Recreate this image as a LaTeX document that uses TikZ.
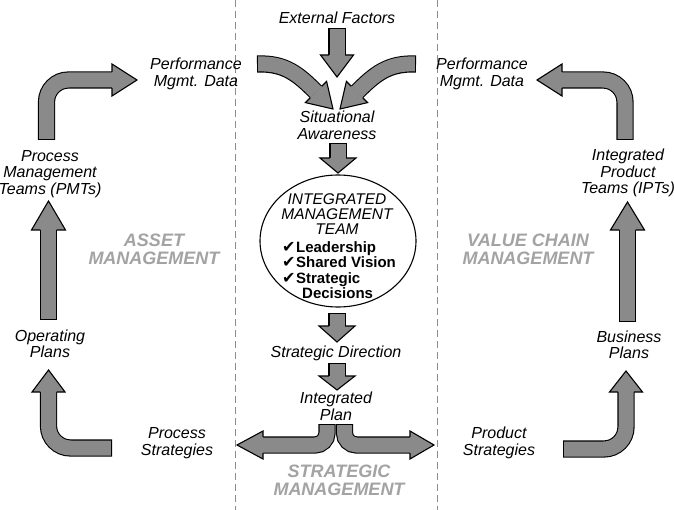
\documentclass[tikz,border=0pt]{standalone}
\usepackage{fontspec}
\setmainfont{Liberation Sans}
\newfontfamily\symfont{DejaVu Sans}
\usetikzlibrary{calc,shapes.geometric}

\definecolor{arrowfill}{HTML}{8A8A8A}
\definecolor{areagray}{HTML}{A3A3A3}
\definecolor{guide}{HTML}{8C8C8C}

\tikzset{
  shaftout/.style={line width=17.2pt, draw=black, line cap=butt},
  shaftin/.style={line width=15pt, draw=arrowfill, line cap=butt, shorten <=1.1pt},
  headline/.style={line width=1.1pt, line join=miter},
  lbl/.style={font=\itshape\fontsize{16}{16.5}\selectfont, align=center, inner sep=0pt},
  area/.style={font=\bfseries\itshape\fontsize{18}{18}\selectfont, text=areagray, align=center, inner sep=0pt},
  guideline/.style={draw=guide, line width=0.8pt, dash pattern=on 7pt off 4pt},
}

% check mark used in the team list
\newcommand\tick{{\symfont\fontsize{16}{16}\selectfont ✔}\hspace{0.5pt}}

% block arrow: options, shaft path, head base, tip, head half-width
\newcommand\blockarrow[5]{%
  \draw[shaftout,#1] #2;
  \draw[shaftin,#1] #2;
  \fill[arrowfill] ($(#3)!#5pt!90:(#4)$) -- (#4) -- ($(#3)!#5pt!-90:(#4)$) -- cycle;
  \draw[headline] ($(#3)!8.05pt!90:(#4)$) -- ($(#3)!#5pt!90:(#4)$) -- (#4)
     -- ($(#3)!#5pt!-90:(#4)$) -- ($(#3)!8.05pt!-90:(#4)$);
}

\begin{document}
\begin{tikzpicture}[x=1pt,y=-1pt]
\fill[white] (0,0) rectangle (674,510);
\useasboundingbox (0,0) rectangle (674,510);

% column separators
\coordinate (sepLtop) at (235,0);   \coordinate (sepLbot) at (235,510);
\coordinate (sepRtop) at (437,0);   \coordinate (sepRbot) at (437,510);
\draw[guideline] (sepLtop) -- (sepLbot);
\draw[guideline] (sepRtop) -- (sepRbot);

% ---------- labels ----------
\node[lbl] (ext)   at (337,18)    {External Factors};
\node[lbl] (sit)   at (337,125.5) {Situational\\Awareness};
\node[lbl] (sdir)  at (336,353)   {Strategic Direction};
\node[lbl] (iplan) at (336,406.5) {Integrated\\Plan};

\node[lbl] (perfL) at (196,74)  {Performance\\Mgmt. Data};
\node[lbl] (pmt)   at (50,174)  {Process\\Management\\Teams (PMTs)};
\node[lbl] (opl)   at (50,344)  {Operating\\Plans};
\node[lbl] (procS) at (177,443) {Process\\Strategies};

\node[lbl] (perfR) at (482,74)  {Performance\\Mgmt. Data};
\node[lbl] (ipt)   at (628,173) {Integrated\\Product\\Teams (IPTs)};
\node[lbl] (bus)   at (629,345) {Business\\Plans};
\node[lbl] (prodS) at (499,443) {Product\\Strategies};

\node[area] (asset) at (154,249) {ASSET\\MANAGEMENT};
\node[area] (vcm)   at (528,249) {VALUE CHAIN\\MANAGEMENT};
\node[area] (smg)   at (339,480) {STRATEGIC\\MANAGEMENT};

% ---------- management team ----------
\node[draw, line width=1.1pt, ellipse, minimum width=156pt, minimum height=132pt, inner sep=0pt] (imt) at (338,241) {};
\node[lbl, font=\itshape\fontsize{15.5}{15}\selectfont] (imtHead) at (337,214)
  {INTEGRATED\\MANAGEMENT\\TEAM};
\node[anchor=west, align=left, inner sep=0pt, font=\bfseries\fontsize{15}{15.4}\selectfont] (imtList) at (282,270)
  {\tick Leadership\\\tick Shared Vision\\\tick Strategic\\\hspace*{20pt}Decisions};

% ---------- arrow geometry ----------
\coordinate (tlS) at (46.5,140); \coordinate (tlC) at (46.5,80); \coordinate (tlB) at (112,80); \coordinate (tlT) at (137,80);
\coordinate (luS) at (48.5,320); \coordinate (luB) at (48.5,230); \coordinate (luT) at (48.5,201);
\coordinate (blS) at (112,448); \coordinate (blC) at (48.5,448); \coordinate (blB) at (48.5,392); \coordinate (blT) at (48.5,370);

\coordinate (trS) at (625,140); \coordinate (trC) at (625,80); \coordinate (trB) at (562,80); \coordinate (trT) at (537,80);
\coordinate (ruS) at (627.5,322); \coordinate (ruB) at (627.5,230); \coordinate (ruT) at (627.5,202);
\coordinate (brS) at (563,449); \coordinate (brC) at (626,449); \coordinate (brB) at (626,392); \coordinate (brT) at (626,371);

\coordinate (exS) at (337,28);  \coordinate (exB) at (337,55);  \coordinate (exT) at (337,77);
\coordinate (ccS) at (257,64);  \coordinate (ccB) at (316,92);  \coordinate (ccT) at (333,109);
\coordinate (cdS) at (416,64);  \coordinate (cdB) at (357,92);  \coordinate (cdT) at (340,109);
\coordinate (saS) at (338,143); \coordinate (saB) at (338,158); \coordinate (saT) at (338,173);
\coordinate (tmS) at (337,313); \coordinate (tmB) at (337,326); \coordinate (tmT) at (337,342);
\coordinate (sdS) at (337,363); \coordinate (sdB) at (337,376); \coordinate (sdT) at (337,390);
\coordinate (spLS) at (327,424);   \coordinate (spLC) at (327,445);   \coordinate (spLB) at (263,445); \coordinate (spLT) at (237,445);
\coordinate (spRS) at (344.5,424); \coordinate (spRC) at (344.5,445); \coordinate (spRB) at (410,445); \coordinate (spRT) at (434,445);

% ---------- arrows ----------
\blockarrow{rounded corners=22pt}{(tlS) -- (tlC) -- (tlB)}{tlB}{tlT}{16}
\blockarrow{}{(luS) -- (luB)}{luB}{luT}{17}
\blockarrow{rounded corners=22pt}{(blS) -- (blC) -- (blB)}{blB}{blT}{16.5}

\blockarrow{rounded corners=22pt}{(trS) -- (trC) -- (trB)}{trB}{trT}{16}
\blockarrow{}{(ruS) -- (ruB)}{ruB}{ruT}{17}
\blockarrow{rounded corners=22pt}{(brS) -- (brC) -- (brB)}{brB}{brT}{16.5}

\blockarrow{}{(exS) -- (exB)}{exB}{exT}{16.5}
\blockarrow{}{(ccS) .. controls (285,63) and (298,74) .. (ccB)}{ccB}{ccT}{15}
\blockarrow{}{(cdS) .. controls (388,63) and (375,74) .. (cdB)}{cdB}{cdT}{15}
\blockarrow{}{(saS) -- (saB)}{saB}{saT}{18}
\blockarrow{}{(tmS) -- (tmB)}{tmB}{tmT}{18}
\blockarrow{}{(sdS) -- (sdB)}{sdB}{sdT}{18}
\blockarrow{rounded corners=12pt}{(spLS) -- (spLC) -- (spLB)}{spLB}{spLT}{14}
\blockarrow{rounded corners=12pt}{(spRS) -- (spRC) -- (spRB)}{spRB}{spRT}{14}
\end{tikzpicture}
\end{document}
